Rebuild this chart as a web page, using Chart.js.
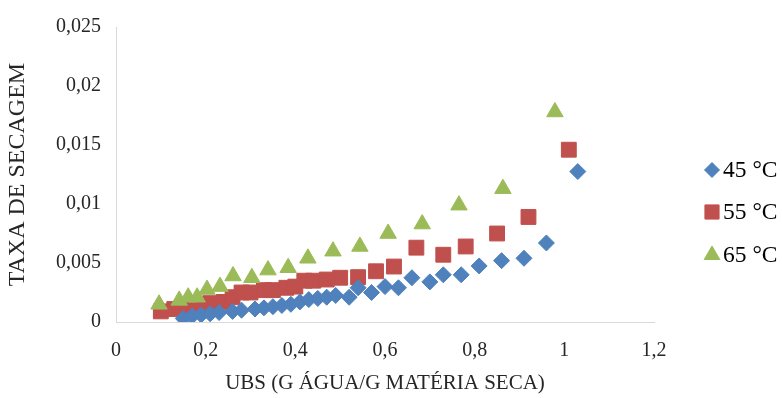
<!DOCTYPE html>
<html>
<head>
<meta charset="utf-8">
<script src="https://cdn.jsdelivr.net/npm/chart.js@4/dist/chart.umd.min.js"></script>
<style>
  html, body { margin: 0; padding: 0; background: #fff; }
  #wrap { width: 782px; height: 398px; position: relative; }
</style>
</head>
<body>
<div id="wrap"><canvas id="grafico"></canvas></div>
<script>
// dados
const ticksX = [0, 0.2, 0.4, 0.6, 0.8, 1, 1.2];
const ticksY = [0, 0.005, 0.01, 0.015, 0.02, 0.025];

const series = ["45 °C", "55 °C", "65 °C"];

const ubs45 = [0.15, 0.17, 0.19, 0.21, 0.23, 0.26, 0.28, 0.31, 0.33, 0.35, 0.37, 0.39, 0.41, 0.43, 0.45, 0.47,
  0.49, 0.52, 0.54, 0.57, 0.60, 0.63, 0.66, 0.70, 0.73, 0.77, 0.81, 0.86, 0.91, 0.96, 1.03];
const taxa45 = [0.0003, 0.0005, 0.0006, 0.0007, 0.0008, 0.0009, 0.0010, 0.0011, 0.0012, 0.0013, 0.0014, 0.0015, 0.0017, 0.0019, 0.0020, 0.0021,
  0.00225, 0.0021, 0.0029, 0.0025, 0.0030, 0.0029, 0.00375, 0.0034, 0.0040, 0.0040, 0.00475, 0.0052, 0.0054, 0.0067, 0.01275];

const ubs55 = [0.10, 0.13, 0.16, 0.19, 0.21, 0.24, 0.26, 0.28, 0.30, 0.33, 0.35, 0.38, 0.40, 0.42, 0.44, 0.47,
  0.50, 0.54, 0.58, 0.62, 0.67, 0.73, 0.78, 0.85, 0.92, 1.01];
const taxa55 = [0.0009, 0.0011, 0.0013, 0.0015, 0.0016, 0.0017, 0.0021, 0.0025, 0.0025, 0.0027, 0.0027, 0.0029, 0.0030, 0.0035, 0.0035, 0.0036,
  0.00375, 0.0038, 0.0043, 0.0047, 0.0063, 0.0057, 0.0064, 0.0075, 0.0089, 0.0146];

const ubs65 = [0.096, 0.141, 0.161, 0.181, 0.203, 0.232, 0.261, 0.303, 0.339, 0.384, 0.428, 0.484, 0.544, 0.607, 0.683, 0.765, 0.863, 0.979];
const taxa65 = [0.0015, 0.00183, 0.0021, 0.0021, 0.00275, 0.0030, 0.0039, 0.00375, 0.0044, 0.0046, 0.0054, 0.0060, 0.0064, 0.0075, 0.0083, 0.0099, 0.0113, 0.0178];

const cores = ["#4F81BD", "#C0504D", "#9BBB59"];
const simbolos = ["rectRot", "rect", "triangle"];
const raios = [8, 10.5, 9.5];
const raiosLegenda = [7.5, 10, 9];
const ordem = [1, 2, 0];

const fonte = "'Liberation Serif', 'Times New Roman', serif";
const corTexto = "#262626";

function pontos(xs, ys) {
  return xs.map((x, i) => ({ x: x, y: ys[i] }));
}

function virgula(v, casas) {
  return String(Number(v.toFixed(casas))).replace(".", ",");
}

const valores = [pontos(ubs45, taxa45), pontos(ubs55, taxa55), pontos(ubs65, taxa65)];

// legenda desenhada a direita
const legendaDireita = {
  id: "legendaDireita",
  afterDraw(chart) {
    const ctx = chart.ctx;
    const ys = [170, 212, 255];
    ctx.save();
    ctx.font = "23.5px " + fonte;
    ctx.textBaseline = "middle";
    chart.data.datasets.forEach((ds, i) => {
      ctx.fillStyle = ds.backgroundColor;
      ctx.strokeStyle = ds.borderColor;
      ctx.lineWidth = 1;
      Chart.helpers.drawPoint(ctx, { pointStyle: ds.pointStyle, radius: raiosLegenda[i], borderWidth: 1, rotation: 0 }, 712, ys[i]);
      ctx.fillStyle = "#000";
      ctx.fillText(ds.label, 723, ys[i] + 1);
    });
    ctx.restore();
  }
};

new Chart(document.getElementById("grafico"), {
  type: "scatter",
  data: {
    datasets: series.map((nome, i) => ({
      label: nome,
      data: valores[i],
      pointStyle: simbolos[i],
      pointRadius: raios[i],
      pointHoverRadius: raios[i],
      backgroundColor: cores[i],
      borderColor: cores[i],
      borderWidth: 1,
      order: ordem[i]
    }))
  },
  options: {
    responsive: true,
    maintainAspectRatio: false,
    animation: false,
    layout: { padding: { left: 0, right: 128, top: 22, bottom: 0 } },
    plugins: {
      legend: { display: false },
      tooltip: { enabled: false }
    },
    scales: {
      x: {
        type: "linear",
        min: 0,
        max: 1.2,
        afterFit: s => { s.height = 76; },
        afterBuildTicks: s => { s.ticks = ticksX.map(v => ({ value: v })); },
        grid: { display: false, drawTicks: false },
        border: { display: true, color: "#D9D9D9", width: 1 },
        ticks: {
          color: corTexto,
          padding: 17,
          font: { family: fonte, size: 20 },
          callback: v => virgula(v, 1)
        },
        title: {
          display: true,
          text: "UBS (G ÁGUA/G MATÉRIA SECA)",
          color: corTexto,
          font: { family: fonte, size: 21 },
          padding: { top: 0, bottom: 2 }
        }
      },
      y: {
        type: "linear",
        min: 0,
        max: 0.025,
        afterFit: s => { s.width = 116; },
        afterBuildTicks: s => { s.ticks = ticksY.map(v => ({ value: v })); },
        grid: { display: false, drawTicks: false },
        border: { display: true, color: "#D9D9D9", width: 1 },
        ticks: {
          color: corTexto,
          padding: 15,
          font: { family: fonte, size: 20 },
          callback: v => virgula(v, 3)
        },
        title: {
          display: true,
          text: "TAXA DE SECAGEM",
          color: corTexto,
          font: { family: fonte, size: 24 },
          padding: { top: 3, bottom: 0 }
        }
      }
    }
  },
  plugins: [legendaDireita]
});
</script>
</body>
</html>
